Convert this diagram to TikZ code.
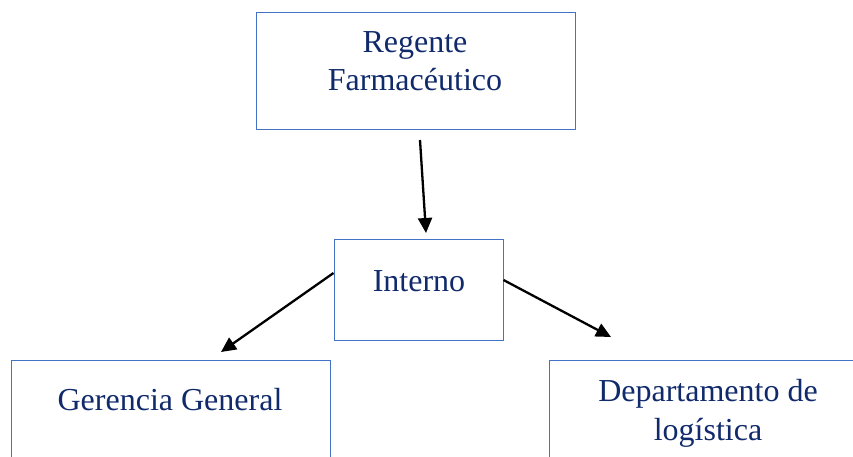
\documentclass[tikz,border=0pt]{standalone}
\usepackage{fontspec}
\setmainfont{Liberation Serif}
\usetikzlibrary{arrows.meta}
\definecolor{boxblue}{HTML}{4472C4}
\definecolor{navytext}{HTML}{102A6B}
\tikzset{
  orgbox/.style={draw=boxblue, line width=1pt, fill=white, inner sep=0pt},
  orgtext/.style={text=navytext, align=center, inner sep=0pt, font=\fontsize{32}{39}\selectfont},
  orgarrow/.style={draw=black, line width=2.3pt, -{Triangle[length=15pt,width=14pt]}}
}
\begin{document}
\begin{tikzpicture}[x=1pt,y=-1pt]
\useasboundingbox (0,0) rectangle (853,457);
\clip (0,0) rectangle (853,457);
% boxes
\node[orgbox, minimum width=319pt, minimum height=117pt] (reg) at (415.5,71.5) {};
\node[orgbox, minimum width=169pt, minimum height=101pt] (int) at (418.5,289.5) {};
\node[orgbox, minimum width=319pt, minimum height=120pt] (ger) at (170.5,420) {};
\node[orgbox, minimum width=320pt, minimum height=120pt] (dep) at (709,420) {};
% texts
\node[orgtext, anchor=base] (regt) at (415,53) {Regente};
\node[orgtext, anchor=base] (regt2) at (415,91) {Farmacéutico};
\node[orgtext, anchor=base] (intt) at (419,291) {Interno};
\node[orgtext, anchor=base] (gert) at (170,410) {Gerencia General};
\node[orgtext, anchor=base] (dept) at (708,401) {Departamento de};
\node[orgtext, anchor=base] (dept2) at (708,440) {logística};
% connector ends
\coordinate (a1s) at (420,140);
\coordinate (a1e) at (426,233);
\coordinate (a2s) at (int.west |- 0,273);
\coordinate (a2e) at (221,352);
\coordinate (a3s) at (int.east |- 0,280);
\coordinate (a3e) at (611,337);
\draw[orgarrow] (a1s) -- (a1e);
\draw[orgarrow] (a2s) -- (a2e);
\draw[orgarrow] (a3s) -- (a3e);
\end{tikzpicture}
\end{document}
